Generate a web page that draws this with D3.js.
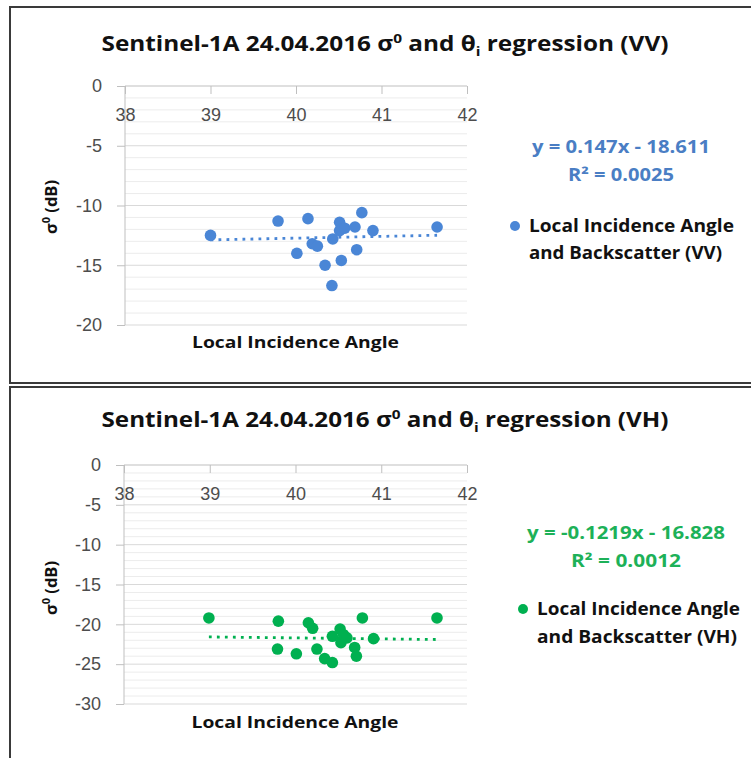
<!DOCTYPE html>
<html>
<head>
<meta charset="utf-8">
<script src="https://cdn.jsdelivr.net/npm/d3@7/dist/d3.min.js"></script>
<style>
	body { margin: 0; background: white; }
</style>
</head>
<body>
<div id="outer"></div>
<script>
const widget = {};

////////// Hard Coded Defs //////////
	// DATA //
const vvAngle = [39.0, 39.79, 40.14, 40.19, 40.25, 40.01, 40.34, 40.42, 40.43, 40.51, 40.53, 40.51, 40.57, 40.69, 40.71, 40.77, 40.90, 41.65];
const vvSigma = [-12.5, -11.3, -11.1, -13.2, -13.4, -14.0, -15.0, -16.7, -12.8, -11.4, -14.6, -12.1, -11.9, -11.8, -13.7, -10.6, -12.1, -11.8];

const vhAngle = [38.99, 39.80, 39.79, 40.01, 40.15, 40.20, 40.25, 40.34, 40.43, 40.43, 40.52, 40.53, 40.56, 40.60, 40.69, 40.71, 40.78, 40.91, 41.65];
const vhSigma = [-19.2, -19.6, -23.1, -23.7, -19.8, -20.5, -23.1, -24.3, -24.8, -21.5, -20.6, -22.3, -21.3, -21.7, -22.9, -24.0, -19.2, -21.8, -19.2];

	// REGRESSION (as printed on the chart) //
const vvTrend = { slope: 0.147, intercept: -18.611, r2: '0.0025' };
const vhTrend = { slope: -0.1219, intercept: -16.828, r2: '0.0012' };

	// TICKS //
const xTicks = [38, 39, 40, 41, 42];
const vvYTicks = [0, -5, -10, -15, -20];
const vhYTicks = [0, -5, -10, -15, -20, -25, -30];

////////////////////////////////////////////////////////////////
	// Setup definitions
////////////////////////////////////////////////////////////////
const jqWidth = 751;
const jqHeight = 758;

const tickFont = '18px "Liberation Sans", Arial, sans-serif';
const boldFont = '"Open Sans", "Noto Sans", sans-serif';
const charts = [
	{
		pol: 'VV', angle: vvAngle, sigma: vvSigma, trend: vvTrend, yTicks: vvYTicks,
		color: '#4a86d6', eqColor: '#4a7ec4',
		box: { top: 7, height: 376 },
		plot: { left: 125, right: 467, top: 86, bottom: 325 },
		titleY: 51, xTitleY: 348, yTitle: { x: 51, y: 207 },
		eq: { x: 621, y1: 153, y2: 181, w1: 178, w2: 106 },
		legend: { dotX: 515, textX: 529, y1: 232, y2: 259, w1: 205, w2: 193 }
	},
	{
		pol: 'VH', angle: vhAngle, sigma: vhSigma, trend: vhTrend, yTicks: vhYTicks,
		color: '#00b050', eqColor: '#1db158',
		box: { top: 387, height: 400 },
		plot: { left: 124, right: 467, top: 465, bottom: 704 },
		titleY: 427, xTitleY: 728, yTitle: { x: 51, y: 588 },
		eq: { x: 626, y1: 539, y2: 567, w1: 198, w2: 110 },
		legend: { dotX: 523, textX: 537, y1: 615, y2: 643, w1: 203, w2: 200 }
	}
];

////////////////////////////////////////////////////////////////
	// Render Widget
////////////////////////////////////////////////////////////////
const outerDiv = d3.select('#outer')
	.style('height', jqHeight + 'px')
	.style('width', jqWidth + 'px');

widget.svg = outerDiv.append('svg')
	.attr('width', jqWidth)
	.attr('height', jqHeight)
	.style('display', 'block');

charts.forEach(c => {
	const g = widget.svg.append('g').attr('class', 'chart' + c.pol);

	// FRAME //
	g.append('rect')
		.attr('x', 10)
		.attr('y', c.box.top)
		.attr('width', 800)
		.attr('height', c.box.height)
		.attr('fill', 'white')
		.attr('stroke', '#3a3a3a')
		.attr('stroke-width', 2);

	// SCALES //
	const x = d3.scaleLinear().domain([38, 42]).range([c.plot.left, c.plot.right]);
	const yMin = d3.min(c.yTicks);
	const y = d3.scaleLinear().domain([0, yMin]).range([c.plot.top, c.plot.bottom]);

	// GRIDLINES (minor every 1, major every 5) //
	g.append('g').selectAll('line')
		.data(d3.range(0, yMin - 1, -1).filter(v => v % 5 !== 0))
		.join('line')
		.attr('x1', c.plot.left).attr('x2', c.plot.right)
		.attr('y1', d => y(d)).attr('y2', d => y(d))
		.attr('stroke', '#ececec')
		.attr('stroke-width', 1);

	g.append('g').selectAll('line')
		.data(c.yTicks.filter(v => v !== 0))
		.join('line')
		.attr('x1', c.plot.left).attr('x2', c.plot.right)
		.attr('y1', d => y(d)).attr('y2', d => y(d))
		.attr('stroke', '#d9d9d9')
		.attr('stroke-width', 1);

	// AXES //
	const yAxis = g.append('g')
		.attr('transform', `translate(${c.plot.left},0)`)
		.call(d3.axisLeft(y).tickValues(c.yTicks).tickSize(8).tickPadding(15).tickFormat(d => String(d)));

	const xAxis = g.append('g')
		.attr('transform', `translate(0,${y(0)})`)
		.call(d3.axisBottom(x).tickValues(xTicks).tickSize(8).tickPadding(14).tickFormat(d => String(d)));

	[yAxis, xAxis].forEach(ax => {
		ax.select('.domain').attr('stroke', '#bfbfbf');
		ax.selectAll('.tick line').attr('stroke', '#bfbfbf');
		ax.selectAll('.tick text')
			.style('font', tickFont)
			.attr('fill', '#4d4d4d');
	});
	xAxis.select('.domain').attr('d', `M${c.plot.left},0H${c.plot.right}`);
	yAxis.select('.domain').attr('d', `M0,${c.plot.top}V${c.plot.bottom}`);

	// TREND LINE //
	const ext = d3.extent(c.angle);
	g.append('line')
		.attr('x1', x(ext[0]))
		.attr('x2', x(ext[1]))
		.attr('y1', y(c.trend.slope * ext[0] + c.trend.intercept))
		.attr('y2', y(c.trend.slope * ext[1] + c.trend.intercept))
		.attr('stroke', c.color)
		.attr('stroke-width', 2.8)
		.attr('stroke-dasharray', '2.8,5.2');

	// POINTS //
	g.append('g').selectAll('circle')
		.data(c.angle.map((a, i) => [a, c.sigma[i]]))
		.join('circle')
		.attr('cx', d => x(d[0]))
		.attr('cy', d => y(d[1]))
		.attr('r', 5.8)
		.attr('fill', c.color);

	// TITLE //
	const title = g.append('text')
		.attr('x', 385)
		.attr('y', c.titleY)
		.attr('text-anchor', 'middle')
		.attr('textLength', 567)
		.attr('lengthAdjust', 'spacingAndGlyphs')
		.style('font-family', boldFont)
		.style('font-weight', 700)
		.style('font-size', '20.5px')
		.attr('fill', '#111');
	title.append('tspan').text('Sentinel-1A 24.04.2016  σ');
	title.append('tspan').attr('dy', -8).style('font-size', '13px').text('0');
	title.append('tspan').attr('dy', 8).text(' and θ');
	title.append('tspan').attr('dy', 5).style('font-size', '13px').text('i');
	title.append('tspan').attr('dy', -5).text(' regression (' + c.pol + ')');

	// AXIS TITLES //
	g.append('text')
		.attr('x', (c.plot.left + c.plot.right) / 2 - 0.5)
		.attr('y', c.xTitleY)
		.attr('text-anchor', 'middle')
		.attr('textLength', 207)
		.attr('lengthAdjust', 'spacingAndGlyphs')
		.style('font-family', boldFont)
		.style('font-weight', 700)
		.style('font-size', '16.5px')
		.attr('fill', '#111')
		.text('Local Incidence Angle');

	const yTitle = g.append('text')
		.attr('transform', `translate(${c.yTitle.x + 6},${c.yTitle.y}) rotate(-90)`)
		.attr('text-anchor', 'middle')
		.style('font-family', boldFont)
		.style('font-weight', 700)
		.style('font-size', '16.5px')
		.attr('fill', '#111');
	yTitle.append('tspan').text('σ');
	yTitle.append('tspan').attr('dy', -7).style('font-size', '11px').text('0');
	yTitle.append('tspan').attr('dy', 7).text(' (dB)');

	// EQUATION //
	const eqLines = [
		{ text: `y = ${c.trend.slope}x - ${Math.abs(c.trend.intercept)}`, y: c.eq.y1, w: c.eq.w1 },
		{ text: `R² = ${c.trend.r2}`, y: c.eq.y2, w: c.eq.w2 }
	];
	g.append('g').selectAll('text')
		.data(eqLines)
		.join('text')
		.attr('x', c.eq.x)
		.attr('y', d => d.y)
		.attr('text-anchor', 'middle')
		.attr('textLength', d => d.w)
		.attr('lengthAdjust', 'spacingAndGlyphs')
		.style('font-family', boldFont)
		.style('font-weight', 700)
		.style('font-size', '17px')
		.attr('fill', c.eqColor)
		.text(d => d.text);

	// LEGEND //
	g.append('circle')
		.attr('cx', c.legend.dotX)
		.attr('cy', c.legend.y1 - 6)
		.attr('r', 5)
		.attr('fill', c.color);
	const legLines = [
		{ text: 'Local Incidence Angle', y: c.legend.y1, w: c.legend.w1 },
		{ text: 'and Backscatter (' + c.pol + ')', y: c.legend.y2, w: c.legend.w2 }
	];
	g.append('g').selectAll('text')
		.data(legLines)
		.join('text')
		.attr('x', c.legend.textX)
		.attr('y', d => d.y)
		.attr('textLength', d => d.w)
		.attr('lengthAdjust', 'spacingAndGlyphs')
		.style('font-family', boldFont)
		.style('font-weight', 700)
		.style('font-size', '17px')
		.attr('fill', '#111')
		.text(d => d.text);
});
</script>
</body>
</html>
